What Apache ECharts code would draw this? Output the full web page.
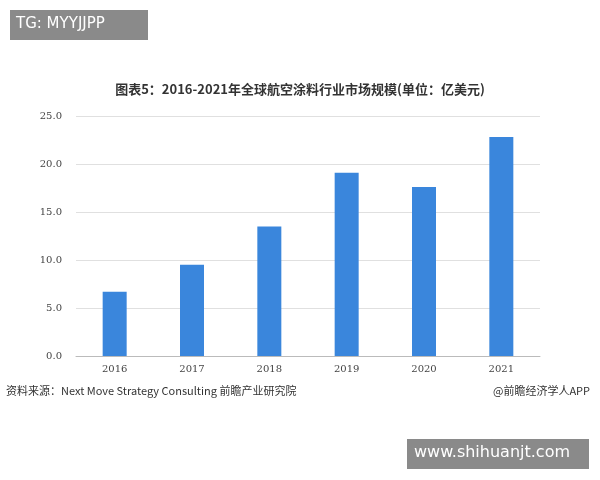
<!DOCTYPE html>
<html><head><meta charset="utf-8">
<script src="https://cdn.jsdelivr.net/npm/echarts@6/dist/echarts.min.js"></script>
<style>html,body{margin:0;padding:0;background:#fff}#c{width:600px;height:480px}</style>
</head><body><div id="c"></div>
<script>
const years = ['2016','2017','2018','2019','2020','2021'];
const values = [6.7, 9.5, 13.5, 19.1, 17.6, 22.8];
const yTicks = [0, 5, 10, 15, 20, 25];
const chart = echarts.init(document.getElementById('c'));
chart.setOption({
  backgroundColor: '#fff',
  title: {
    text: '图表5：2016-2021年全球航空涂料行业市场规模(单位：亿美元)',
    left: 'center', top: 78,
    textStyle: {fontSize: 13, fontWeight: 'bold', color: '#333', fontFamily: 'Noto Sans CJK SC'}
  },
  grid: {left: 76, right: 60, top: 116, bottom: 124},
  xAxis: {
    type: 'category', data: years,
    axisLine: {lineStyle: {color: '#bbb'}},
    axisTick: {show: false},
    axisLabel: {color: '#444', fontSize: 10, fontFamily: 'DejaVu Serif', margin: 8}
  },
  yAxis: {
    type: 'value', min: yTicks[0], max: yTicks[yTicks.length-1], interval: 5,
    axisLine: {show: false}, axisTick: {show: false},
    splitLine: {lineStyle: {color: '#e0e0e0'}},
    axisLabel: {color: '#444', fontSize: 10, fontFamily: 'DejaVu Serif', formatter: v => v.toFixed(1), margin: 14}
  },
  series: [{
    type: 'bar', data: values, barWidth: 24,
    itemStyle: {color: '#3a86dc'}
  }],
  graphic: [
    {type: 'rect', left: 10, top: 10, shape: {width: 138, height: 30}, style: {fill: '#8a8a8a'}},
    {type: 'text', left: 16, top: 17, style: {text: 'TG: MYYJJPP', fill: '#fff', font: '15px "DejaVu Sans"'}},
    {type: 'text', left: 6, top: 385, style: {text: '资料来源：Next Move Strategy Consulting 前瞻产业研究院', fill: '#333', font: '11px "Noto Sans CJK SC"'}},
    {type: 'text', right: 10, top: 385, style: {text: '@前瞻经济学人APP', fill: '#333', font: '11px "Noto Sans CJK SC"'}},
    {type: 'rect', left: 407, top: 439, shape: {width: 182, height: 30}, style: {fill: '#8a8a8a'}},
    {type: 'text', left: 414, top: 445, style: {text: 'www.shihuanjt.com', fill: '#fff', font: '16px "DejaVu Sans"'}}
  ]
});
</script></body></html>
